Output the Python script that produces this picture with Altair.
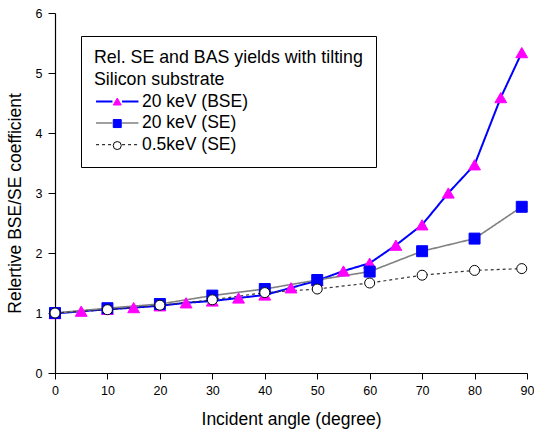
import altair as alt
import pandas as pd

FONT = "Liberation Sans"

series_names = ["20 keV (BSE)", "20 keV (SE)", "0.5keV (SE)"]

angles_bse = [0, 5, 10, 15, 20, 25, 30, 35, 40, 45, 50, 55, 60, 65, 70, 75, 80, 85, 89]
bse_20kev = [0.99, 1.03, 1.06, 1.09, 1.12, 1.17, 1.20, 1.25, 1.30, 1.42, 1.54, 1.70,
             1.83, 2.13, 2.47, 3.00, 3.47, 4.59, 5.34]

angles_se = [0, 10, 20, 30, 40, 50, 60, 70, 80, 89]
se_20kev = [1.00, 1.08, 1.15, 1.29, 1.40, 1.55, 1.69, 2.03, 2.24, 2.77]
se_05kev = [1.00, 1.055, 1.13, 1.22, 1.34, 1.40, 1.50, 1.63, 1.71, 1.74]

legend_title = ["Rel. SE and BAS yields with tilting", "Silicon substrate"]

x_ticks = list(range(0, 91, 5))
y_ticks = [i * 0.5 for i in range(13)]

rows = []
for a, v in zip(angles_bse, bse_20kev):
    rows.append({"angle": a, "value": v, "s1": series_names[0], "s2": series_names[0]})
for a, v in zip(angles_se, se_20kev):
    rows.append({"angle": a, "value": v, "s1": series_names[1], "s2": series_names[1]})
for a, v in zip(angles_se, se_05kev):
    rows.append({"angle": a, "value": v, "s1": series_names[2], "s2": series_names[2]})
df = pd.DataFrame(rows)

line_colors = ["#0000FF", "#808080", "#333333"]
line_dashes = [[1, 0], [1, 0], [3, 3]]
line_widths = [2.0, 1.2, 1.2]
pt_shapes = ["triangle-up", "square", "circle"]
pt_fills = ["#FF00FF", "#0000FF", "#FFFFFF"]
pt_strokes = ["#FF00FF", "#0000FF", "#000000"]
pt_sizes = [140, 100, 90]

ROW_STEP = 22
common_legend = dict(
    orient="none", legendX=26, direction="vertical",
    title=legend_title, titleFont=FONT, titleFontSize=17.8, titleFontWeight="normal",
    titleColor="black", titleLineHeight=22, titlePadding=4, titleLimit=600,
    labelFont=FONT, labelFontSize=17.5, labelColor="black", labelLimit=400,
    symbolSize=64, symbolOffset=14.5, labelOffset=16, rowPadding=2.5, padding=13,
)

line_legend = alt.Legend(
    symbolType="M-5.3,0L-1.2,0M1.2,0L5.3,0", strokeColor="black", fillColor="white",
    legendY=23, zindex=1, **common_legend,
)

hidden = dict(titleOpacity=0, labelOpacity=0, symbolStrokeWidth=1, zindex=3)
# one marker entry per legend, each on its own row of the box
bse_legend = alt.Legend(values=[series_names[0]], symbolType="triangle-up",
                        symbolStrokeColor=pt_strokes[0], legendY=23,
                        **hidden, **common_legend)
se_legend = alt.Legend(values=[series_names[1]], symbolType="square",
                       symbolFillColor=pt_fills[1], legendY=23 + ROW_STEP,
                       **hidden, **common_legend)
low_legend = alt.Legend(values=[series_names[2]], symbolFillColor=pt_fills[2],
                        symbolStrokeColor=pt_strokes[2], legendY=23 + 2 * ROW_STEP,
                        **hidden, **common_legend)

xaxis = alt.Axis(
    values=x_ticks, labelExpr="datum.value % 10 === 0 ? datum.label : ''",
    tickSize={"condition": {"test": "datum.value % 10 === 0", "value": 6}, "value": 3},
    labelPadding=5, labelFontSize=12.5, labelFont=FONT, labelColor="black",
    labelFlush=False, labelOverlap=False,
    domainColor="black", domainWidth=1.2, tickColor="black", tickWidth=1, grid=False,
    title="Incident angle (degree)", titleFont=FONT, titleFontSize=17.5,
    titleFontWeight="normal", titleColor="black", titleY=51, titleBaseline="alphabetic",
)
yaxis = alt.Axis(
    values=y_ticks, labelExpr="datum.value % 1 === 0 ? '' + datum.value : ''",
    tickSize={"condition": {"test": "datum.value % 1 === 0", "value": 7}, "value": 4},
    labelPadding=6, labelFontSize=12.5, labelFont=FONT, labelColor="black",
    labelFlush=False, labelOverlap=False,
    domainColor="black", domainWidth=1.2, tickColor="black", tickWidth=1, grid=False,
    title="Relertive BSE/SE coefficient", titleFont=FONT, titleFontSize=17.5,
    titleFontWeight="normal", titleColor="black", titleX=-39.5, titleY=190,
    titleBaseline="middle", titleAlign="center", titleAngle=270,
)

xenc = alt.X("angle:Q", scale=alt.Scale(domain=[0, 90], nice=False), axis=xaxis)
yenc = alt.Y("value:Q", scale=alt.Scale(domain=[0, 6], nice=False), axis=yaxis)

lines = alt.Chart(df).mark_line().encode(
    x=xenc, y=yenc,
    color=alt.Color("s1:N", scale=alt.Scale(domain=series_names, range=line_colors), legend=line_legend),
    strokeDash=alt.StrokeDash("s1:N", scale=alt.Scale(domain=series_names, range=line_dashes), legend=line_legend),
    strokeWidth=alt.StrokeWidth("s1:N", scale=alt.Scale(domain=series_names, range=line_widths), legend=line_legend),
)

points = alt.Chart(df).mark_point(filled=True, opacity=1, strokeWidth=1).encode(
    x="angle:Q", y="value:Q",
    shape=alt.Shape("s2:N", sort=series_names, scale=alt.Scale(range=pt_shapes), legend=low_legend),
    fill=alt.Fill("s2:N", sort=series_names, scale=alt.Scale(range=pt_fills), legend=bse_legend),
    stroke=alt.Stroke("s2:N", sort=series_names, scale=alt.Scale(range=pt_strokes), legend=se_legend),
    size=alt.Size("s2:N", sort=series_names, scale=alt.Scale(range=pt_sizes), legend=None),
)

chart = alt.layer(lines, points).properties(
    width=472, height=360,
    autosize=alt.AutoSizeParams(type="none"),
    padding={"left": 55, "top": 13, "right": 7, "bottom": 59},
    background="white",
).configure_view(strokeWidth=0)

chart.save("out.html", embed_options={"renderer": "svg", "actions": False})
